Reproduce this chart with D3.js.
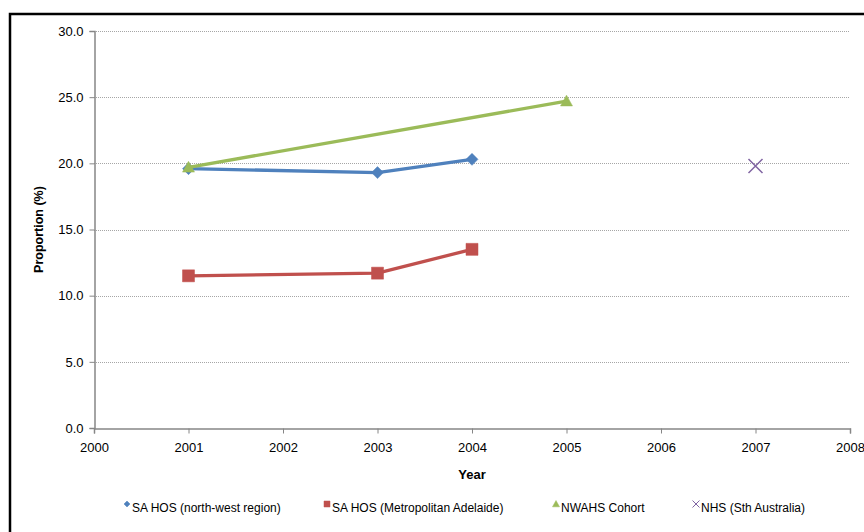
<!DOCTYPE html>
<html>
<head>
<meta charset="utf-8">
<script src="https://cdn.jsdelivr.net/npm/d3@7"></script>
<style>
  html, body { margin: 0; padding: 0; background: #fff; }
  svg { display: block; font-family: "Liberation Sans", Arial, sans-serif; }
</style>
</head>
<body>
<svg id="chart" width="864" height="532"></svg>
<script>
// Series values (proportion, %) by survey year
const years = [2000, 2001, 2002, 2003, 2004, 2005, 2006, 2007, 2008];
const yTicks = [0, 5, 10, 15, 20, 25, 30];

const sahosNorthWest = [
  { year: 2001, value: 19.6 },
  { year: 2003, value: 19.3 },
  { year: 2004, value: 20.3 }
];
const sahosMetro = [
  { year: 2001, value: 11.5 },
  { year: 2003, value: 11.7 },
  { year: 2004, value: 13.5 }
];
const nwahsCohort = [
  { year: 2001, value: 19.7 },
  { year: 2005, value: 24.7 }
];
const nhsSA = [
  { year: 2007, value: 19.8 }
];

const seriesNames = ["SA HOS (north-west region)", "SA HOS (Metropolitan Adelaide)", "NWAHS Cohort", "NHS (Sth Australia)"];

const series = [
  { name: seriesNames[0], data: sahosNorthWest, color: "#4F81BD", symbol: "diamond" },
  { name: seriesNames[1], data: sahosMetro, color: "#C0504D", symbol: "square" },
  { name: seriesNames[2], data: nwahsCohort, color: "#9BBB59", symbol: "triangle" },
  { name: seriesNames[3], data: nhsSA, color: "#8064A2", symbol: "cross" }
];

const svg = d3.select("#chart");
const plotLeft = 94, plotRight = 850, plotTop = 31, plotBottom = 428;

const x = d3.scaleLinear().domain([2000, 2008]).range([plotLeft, plotRight]);
const y = d3.scaleLinear().domain([0, 30]).range([plotBottom, plotTop]);

// Outer frame
svg.append("rect")
  .attr("x", 10).attr("y", 14)
  .attr("width", 900).attr("height", 600)
  .attr("fill", "none").attr("stroke", "#000").attr("stroke-width", 2.5);

// Horizontal gridlines
svg.append("g")
  .selectAll("line")
  .data(yTicks.filter(d => d > 0))
  .join("line")
  .attr("x1", plotLeft).attr("x2", plotRight)
  .attr("y1", d => Math.round(y(d)) + 0.5).attr("y2", d => Math.round(y(d)) + 0.5)
  .attr("stroke", "#a6a6a6").attr("stroke-width", 1)
  .attr("stroke-dasharray", "1,1");

// Y axis
const yAxis = svg.append("g")
  .attr("transform", `translate(${plotLeft + 0.5},0)`)
  .call(d3.axisLeft(y).tickValues(yTicks).tickFormat(d3.format(".1f")).tickSize(5).tickPadding(6));
yAxis.select(".domain").attr("stroke", "#868686").attr("stroke-width", 1.5);
yAxis.selectAll(".tick line").attr("stroke", "#868686");
yAxis.selectAll(".tick text").attr("font-size", 13).attr("fill", "#000")
  .attr("font-family", "Liberation Sans, Arial, sans-serif");

// X axis
const xAxis = svg.append("g")
  .attr("transform", `translate(0,${plotBottom + 0.5})`)
  .call(d3.axisBottom(x).tickValues(years).tickFormat(d3.format("d")).tickSize(5).tickPadding(9));
xAxis.select(".domain").attr("stroke", "#868686").attr("stroke-width", 1.5);
xAxis.selectAll(".tick line").attr("stroke", "#868686");
xAxis.selectAll(".tick text").attr("font-size", 13).attr("fill", "#000")
  .attr("font-family", "Liberation Sans, Arial, sans-serif");

// Axis titles
svg.append("text")
  .attr("x", (plotLeft + plotRight) / 2).attr("y", 479)
  .attr("text-anchor", "middle")
  .attr("font-size", 13).attr("font-weight", "bold")
  .text("Year");

svg.append("text")
  .attr("transform", `translate(43,${(plotTop + plotBottom) / 2}) rotate(-90)`)
  .attr("text-anchor", "middle")
  .attr("font-size", 12.5).attr("font-weight", "bold")
  .text("Proportion (%)");

// Marker shapes
function symbolPath(type, size) {
  const s = size / 2;
  if (type === "diamond") return `M0,${-s}L${s},0L0,${s}L${-s},0Z`;
  if (type === "square") return `M${-s},${-s}H${s}V${s}H${-s}Z`;
  if (type === "triangle") return `M0,${-s}L${s},${s * 0.8}L${-s},${s * 0.8}Z`;
  return `M${-s},${-s}L${s},${s}M${s},${-s}L${-s},${s}`;
}

const line = d3.line().x(d => x(d.year)).y(d => y(d.value));
const markerSize = { diamond: 12, square: 12, triangle: 12, cross: 14 };

series.forEach(s => {
  const g = svg.append("g");
  if (s.data.length > 1) {
    g.append("path")
      .datum(s.data)
      .attr("d", line)
      .attr("fill", "none")
      .attr("stroke", s.color)
      .attr("stroke-width", 3.3)
      .attr("stroke-linejoin", "round");
  }
  g.selectAll("path.marker")
    .data(s.data)
    .join("path")
    .attr("class", "marker")
    .attr("transform", d => `translate(${x(d.year)},${y(d.value)})`)
    .attr("d", symbolPath(s.symbol, markerSize[s.symbol]))
    .attr("fill", s.symbol === "cross" ? "none" : s.color)
    .attr("stroke", s.color)
    .attr("stroke-width", s.symbol === "cross" ? 1.5 : 0.5);
});

// Legend
const legendX = [127, 327, 556, 696];
const legend = svg.append("g");
series.forEach((s, i) => {
  const sizes = { diamond: 6, square: 6, triangle: 7, cross: 7 };
  legend.append("path")
    .attr("transform", `translate(${legendX[i]},504)`)
    .attr("d", symbolPath(s.symbol, sizes[s.symbol]))
    .attr("fill", s.symbol === "cross" ? "none" : s.color)
    .attr("stroke", s.color)
    .attr("stroke-width", s.symbol === "cross" ? 1 : 0.5);
  legend.append("text")
    .attr("x", legendX[i] + 5).attr("y", 512)
    .attr("font-size", 12)
    .attr("fill", "#000")
    .text(s.name);
});
</script>
</body>
</html>
